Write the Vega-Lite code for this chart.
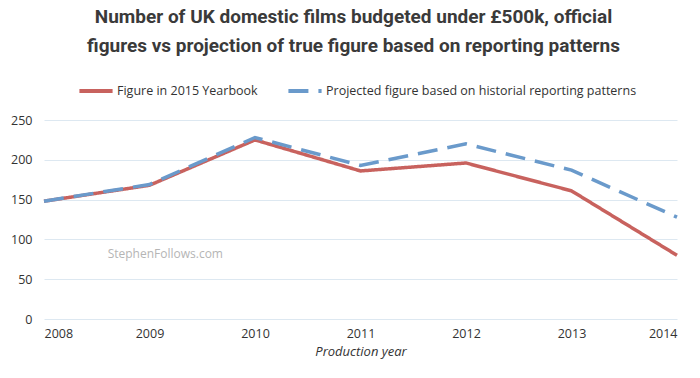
{
  "$schema": "https://vega.github.io/schema/vega-lite/v6.json",
  "width": 633,
  "height": 199,
  "autosize": "none",
  "padding": {"left": 44, "top": 120, "right": 23, "bottom": 59},
  "background": "white",
  "config": {
    "view": {"stroke": null},
    "font": "Open Sans"
  },
  "title": {
    "text": ["Number of UK domestic films budgeted under £500k, official", "figures vs projection of true figure based on reporting patterns"],
    "font": "Roboto",
    "fontSize": 19,
    "fontWeight": "bold",
    "color": "#3a3a3a",
    "anchor": "middle",
    "dx": -7,
    "offset": 16,
    "lineHeight": 29
  },
  "resolve": {"axis": {"x": "independent", "y": "independent"}},
  "layer": [
    {
      "data": {"values": [
        {"year": 2008, "value": 148, "series": "Figure in 2015 Yearbook"},
        {"year": 2009, "value": 168, "series": "Figure in 2015 Yearbook"},
        {"year": 2010, "value": 225, "series": "Figure in 2015 Yearbook"},
        {"year": 2011, "value": 186, "series": "Figure in 2015 Yearbook"},
        {"year": 2012, "value": 196, "series": "Figure in 2015 Yearbook"},
        {"year": 2013, "value": 161, "series": "Figure in 2015 Yearbook"},
        {"year": 2014, "value": 80, "series": "Figure in 2015 Yearbook"},
        {"year": 2008, "value": 148, "series": "Projected figure based on historial reporting patterns"},
        {"year": 2009, "value": 169, "series": "Projected figure based on historial reporting patterns"},
        {"year": 2010, "value": 228, "series": "Projected figure based on historial reporting patterns"},
        {"year": 2011, "value": 193, "series": "Projected figure based on historial reporting patterns"},
        {"year": 2012, "value": 220, "series": "Projected figure based on historial reporting patterns"},
        {"year": 2013, "value": 187, "series": "Projected figure based on historial reporting patterns"},
        {"year": 2014, "value": 128, "series": "Projected figure based on historial reporting patterns"}
      ]},
      "mark": {"type": "line", "strokeWidth": 3.5},
      "encoding": {
        "x": {
          "field": "year", "type": "quantitative",
          "scale": {"domain": [2008, 2014], "nice": false, "zero": false},
          "axis": {
            "values": [2008, 2009, 2010, 2011, 2012, 2013, 2014],
            "format": "d",
            "title": "Production year",
            "titleFont": "Open Sans",
            "titleFontStyle": "italic",
            "titleFontWeight": "normal",
            "titleFontSize": 13,
            "titleColor": "#333",
            "titlePadding": 6,
            "labelFontSize": 12.5,
            "labelColor": "#333",
            "labelPadding": 8,
            "labelOverlap": false,
            "domain": false,
            "ticks": false,
            "grid": false
          }
        },
        "y": {
          "field": "value", "type": "quantitative",
          "scale": {"domain": [0, 250], "nice": false},
          "axis": {
            "values": [0, 50, 100, 150, 200, 250],
            "title": null,
            "domain": false,
            "ticks": false,
            "labelOverlap": false,
            "labelFontSize": 12.5,
            "labelColor": "#333",
            "labelPadding": 12,
            "gridColor": "#dde8f1",
            "gridWidth": 1
          }
        },
        "color": {
          "field": "series", "type": "nominal",
          "scale": {
            "domain": ["Figure in 2015 Yearbook", "Projected figure based on historial reporting patterns"],
            "range": ["#c8625e", "#6a9acb"]
          },
          "legend": {
            "title": null,
            "orient": "none",
            "direction": "horizontal",
            "legendX": 33,
            "legendY": -48,
            "symbolType": "stroke",
            "symbolSize": 1100,
            "symbolStrokeWidth": 4,
            "labelFontSize": 12.5,
            "labelColor": "#333",
            "labelFont": "Open Sans",
            "labelLimit": 400,
            "labelOffset": 2,
            "columnPadding": 22
          }
        },
        "strokeDash": {
          "field": "series", "type": "nominal",
          "scale": {
            "domain": ["Figure in 2015 Yearbook", "Projected figure based on historial reporting patterns"],
            "range": [[1, 0], [20, 10]]
          },
          "legend": {
            "title": null,
            "orient": "none",
            "direction": "horizontal",
            "legendX": 33,
            "legendY": -48,
            "symbolType": "stroke",
            "symbolSize": 1100,
            "symbolStrokeWidth": 4,
            "labelFontSize": 12.5,
            "labelColor": "#333",
            "labelFont": "Open Sans",
            "labelLimit": 400,
            "labelOffset": 2,
            "columnPadding": 22
          }
        }
      }
    },
    {
      "data": {"values": [{"year": 2009.15, "value": 82, "label": "StephenFollows.com"}]},
      "mark": {"type": "text", "font": "Open Sans", "fontSize": 12, "color": "#b5b5b5"},
      "encoding": {
        "x": {"field": "year", "type": "quantitative", "axis": null},
        "y": {"field": "value", "type": "quantitative", "axis": null},
        "text": {"field": "label"}
      }
    }
  ]
}
